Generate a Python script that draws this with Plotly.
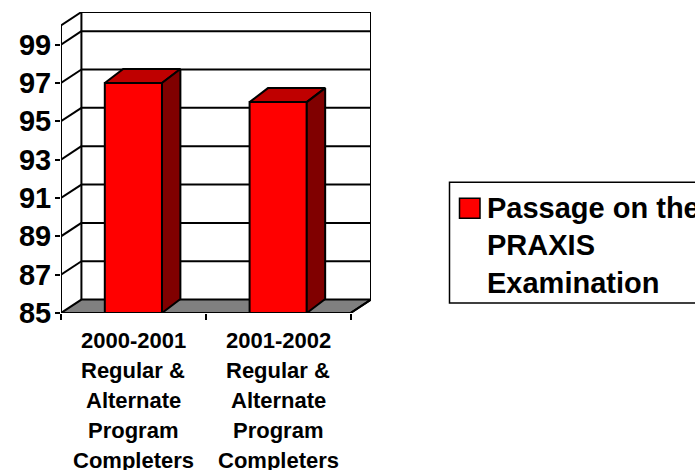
import plotly.graph_objects as go

categories = ["2000-2001", "2001-2002"]
category_lines = ["Regular &", "Alternate", "Program", "Completers"]
values = [97, 96]
legend_lines = ["Passage on the", "PRAXIS", "Examination"]
y_ticks = [85, 87, 89, 91, 93, 95, 97, 99]
x_ticks = [0, 1, 2]

FONT = "Liberation Sans"
Y0, Y1 = 85, 100
DX, DY = 0.141, 0.70      # wall depth in axis units
BDX, BDY = 0.127, 0.73    # bar depth in axis units
BW = 0.395
LW = 2
W, H = 695, 470
ML, MR, MT, MB = 61, 324, 11.5, 157
PW, PH = W - ML - MR, H - MT - MB


def px(x):
    return (x - ML) / PW


def py(y):
    return 1 - (y - MT) / PH


fig = go.Figure()

# Front faces of the bars
fig.add_trace(go.Bar(
    x=[i + 0.5 for i in range(len(values))], y=values, width=BW,
    name=" ".join(legend_lines), cliponaxis=False, showlegend=False,
    marker=dict(color="#FF0000", line=dict(color="black", width=LW)),
))

# Top and side faces
for i, v in enumerate(values):
    l, r = i + 0.5 - BW / 2, i + 0.5 + BW / 2
    fig.add_trace(go.Scatter(
        x=[l, r, r + BDX, l + BDX, l], y=[v, v, v + BDY, v + BDY, v],
        mode="lines", fill="toself", fillcolor="#BF0000",
        line=dict(color="black", width=LW), showlegend=False, hoverinfo="skip", cliponaxis=False))
    fig.add_trace(go.Scatter(
        x=[r, r + BDX, r + BDX, r, r], y=[Y0, Y0 + BDY, v + BDY, v, Y0],
        mode="lines", fill="toself", fillcolor="#800000",
        line=dict(color="black", width=LW), showlegend=False, hoverinfo="skip", cliponaxis=False))

# Outer edges of the box
X2 = len(values)
fig.add_trace(go.Scatter(
    x=[X2 + DX, X2 + DX, DX, 0, 0, X2, X2 + DX],
    y=[Y0 + DY, Y1 + DY, Y1 + DY, Y1, Y0, Y0, Y0 + DY],
    mode="lines", line=dict(color="black", width=LW), showlegend=False, hoverinfo="skip", cliponaxis=False))

# Floor and grid, below the bars
shapes = [dict(type="path", layer="below", xref="x", yref="y",
               path=f"M 0 {Y0} L {X2} {Y0} L {X2+DX} {Y0+DY} L {DX} {Y0+DY} Z",
               fillcolor="#808080", line=dict(color="black", width=LW))]
for t in y_ticks[1:]:
    shapes.append(dict(type="line", layer="below", xref="x", yref="y",
                       x0=0, y0=t, x1=DX, y1=t + DY, line=dict(color="black", width=LW)))
    shapes.append(dict(type="line", layer="below", xref="x", yref="y",
                       x0=DX, y0=t + DY, x1=X2 + DX, y1=t + DY, line=dict(color="black", width=LW)))
shapes.append(dict(type="line", layer="below", xref="x", yref="y",
                   x0=DX, y0=Y0 + DY, x1=DX, y1=Y1 + DY, line=dict(color="black", width=LW)))

# Legend box and swatch
shapes.append(dict(type="rect", xref="paper", yref="paper", x0=px(449.5), x1=px(705),
                   y0=py(303), y1=py(182), fillcolor="white", line=dict(color="black", width=1.5)))
shapes.append(dict(type="rect", xref="paper", yref="paper", x0=px(459.5), x1=px(480),
                   y0=py(218), y1=py(198), fillcolor="#FF0000", line=dict(color="black", width=1.5)))

# Category labels
annotations = []
for i, c in enumerate(categories):
    for j, txt in enumerate([c] + category_lines):
        annotations.append(dict(
            x=i + 0.5, y=Y0, xref="x", yref="y", text=f"<b>{txt}</b>", showarrow=False,
            yanchor="middle", xanchor="center", yshift=-(27.5 + 30 * j),
            font=dict(family=FONT, size=22, color="black")))

# Legend text
for j, txt in enumerate(legend_lines):
    annotations.append(dict(
        x=px(487), y=py(207.5 + 37.5 * j), xref="paper", yref="paper", text=f"<b>{txt}</b>",
        showarrow=False, xanchor="left", yanchor="middle", align="left", borderpad=0, borderwidth=0,
        font=dict(family=FONT, size=29, color="black")))

fig.update_layout(
    width=W, height=H, autosize=False,
    margin=dict(l=ML, r=MR, t=MT, b=MB, pad=0, autoexpand=False),
    paper_bgcolor="white", plot_bgcolor="white",
    font=dict(family=FONT, color="black"),
    showlegend=False,
    xaxis=dict(range=[0, X2 + DX], tickmode="array", tickvals=x_ticks, ticks="outside", ticklen=6,
               tickwidth=1.5, tickcolor="black", showticklabels=False, showgrid=False,
               showline=False, zeroline=False),
    yaxis=dict(range=[Y0, Y1 + DY], tickmode="array", tickvals=y_ticks, ticks="outside", ticklen=5,
               tickwidth=1.5, tickcolor="black", showgrid=False, showline=False, zeroline=False,
               ticklabelstandoff=-2,
               tickfont=dict(family=FONT, size=29, weight="bold", color="black")),
    shapes=shapes, annotations=annotations,
)

fig.write_html("out.html", config=dict(displayModeBar=False),
               post_script="document.body.style.margin='0';document.body.style.overflow='hidden';")
